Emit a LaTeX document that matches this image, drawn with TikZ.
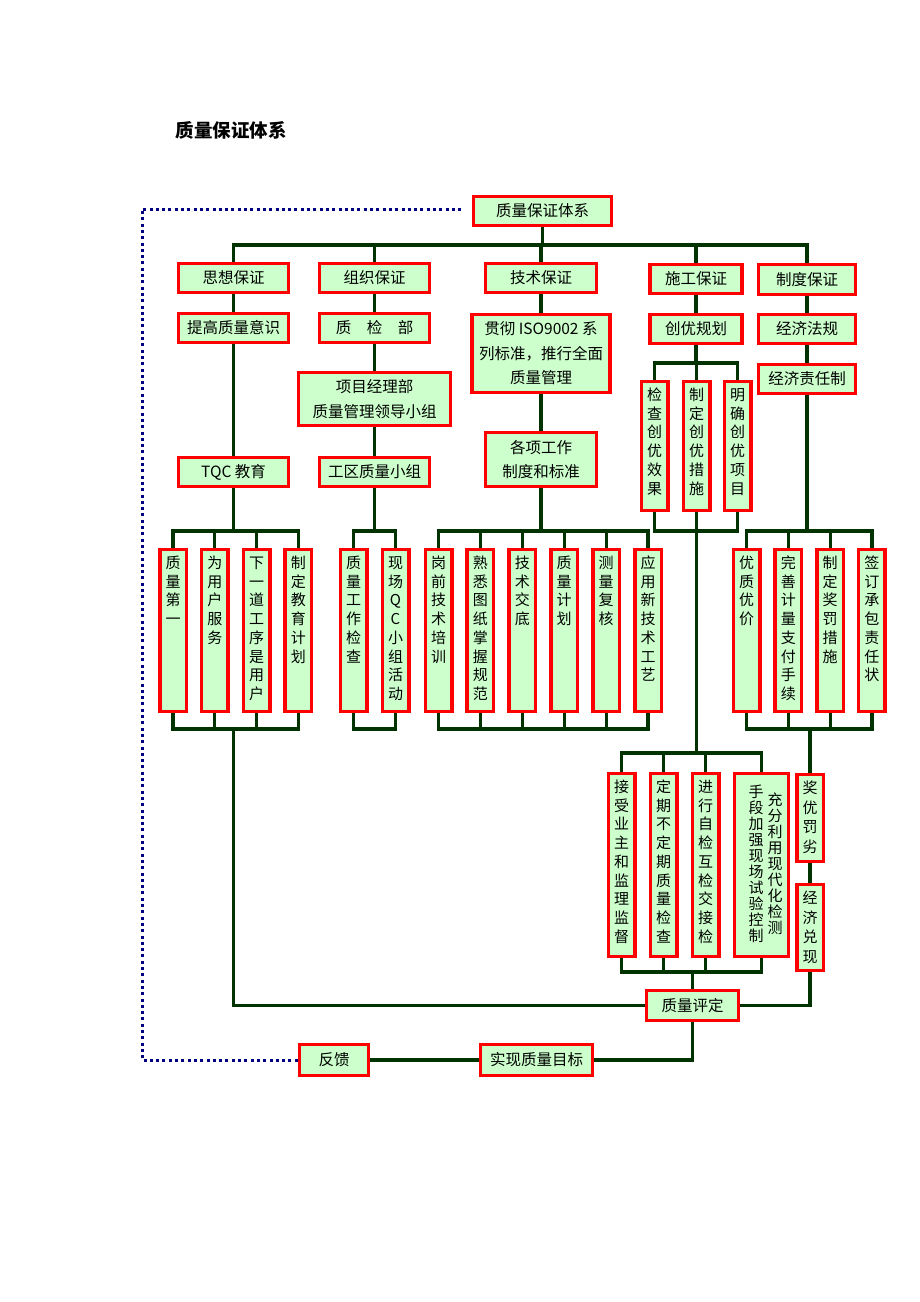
\documentclass[tikz,border=0pt]{standalone}
\usepackage{fontspec}
\setmainfont{Noto Sans CJK SC}
\usepackage{tikz}
\usetikzlibrary{positioning,backgrounds}

\definecolor{boxfill}{HTML}{CCFFCC}
\definecolor{boxline}{HTML}{FF0000}
\definecolor{linkline}{HTML}{003300}
\definecolor{dotline}{HTML}{000080}

\newcommand{\vcol}[1]{\parbox[t]{16pt}{\centering #1}}

\begin{document}
\begin{tikzpicture}[x=1pt,y=-1pt,node distance=50pt,on grid,
    hbox/.style={draw=boxline,fill=boxfill,line width=3.5pt,inner sep=0pt,
      minimum width=110pt,minimum height=29pt,align=center,
      font=\fontsize{15.5}{24.5}\selectfont},
    vbox/.style={draw=boxline,fill=boxfill,line width=3.5pt,inner xsep=0pt,
      inner ysep=5pt,minimum width=26.5pt,text height=14pt,text depth=#1,
      font=\fontsize{15}{18.7}\selectfont},
    conn/.style={draw=linkline,line width=3.2pt},
    fbline/.style={draw=dotline,line width=3pt,dash pattern=on 3pt off 3.3pt}]
  \useasboundingbox (0,0) rectangle (920,1302);

  \node[font=\fontsize{18.5}{22}\selectfont\bfseries] (title) at (231,130) {质量保证体系};

  \node[hbox,minimum width=138pt] (top) at (542.5,211) {质量保证体系};
  \node[hbox] (g_1) at (233.5,278) {思想保证};
  \node[hbox] (g_2) at (374.5,278) {组织保证};
  \node[hbox,minimum width=111pt] (g_3) at (541,278) {技术保证};
  \node[hbox,minimum width=92pt] (g_4) at (696,279) {施工保证};
  \node[hbox,minimum width=97pt,minimum height=30pt] (g_5) at (807,279.5) {制度保证};

  \node[hbox] (g_1a) [below=of g_1] {提高质量意识};
  \node[hbox] (g_1b) [below=144pt of g_1a] {TQC 教育};
  \node[hbox] (g_2a) [below=of g_2] {质\hspace{1em}检\hspace{1em}部};
  \node[hbox,minimum width=152pt,minimum height=53pt] (g_2b) [below=71pt of g_2a] {项目经理部\\质量管理领导小组};
  \node[hbox] (g_2c) [below=73pt of g_2b] {工区质量小组};
  \node[hbox,minimum width=138pt,minimum height=78pt] (g_3a) [below=75.5pt of g_3] {贯彻 ISO9002 系\\列标准，推行全面\\质量管理};
  \node[hbox,minimum width=111pt,minimum height=54pt] (g_3b) [below=106pt of g_3a] {各项工作\\制度和标准};
  \node[hbox,minimum width=92pt] (g_4a) [below=of g_4] {创优规划};
  \node[hbox,minimum width=97pt] (g_5a) [below=49.5pt of g_5] {经济法规};
  \node[hbox,minimum width=97pt] (g_5b) [below=of g_5a] {经济责任制};

  \node[vbox=105pt] (c_1) at (654.5,446) {\vcol{检\\查\\创\\优\\效\\果}};
  \node[vbox=105pt] (c_2) [right=42pt of c_1] {\vcol{制\\定\\创\\优\\措\\施}};
  \node[vbox=105pt] (c_3) [right=41pt of c_2] {\vcol{明\\确\\创\\优\\项\\目}};

  \node[vbox=138pt] (v_1) at (173,630.5) {\vcol{质\\量\\第\\一}};
  \node[vbox=138pt] (v_2) [right=41.8pt of v_1] {\vcol{为\\用\\户\\服\\务}};
  \node[vbox=138pt] (v_3) [right=41.8pt of v_2] {\vcol{下\\一\\道\\工\\序\\是\\用\\户}};
  \node[vbox=138pt] (v_4) [right=41.8pt of v_3] {\vcol{制\\定\\教\\育\\计\\划}};

  \node[vbox=138pt] (w_1) at (353.5,630.5) {\vcol{质\\量\\工\\作\\检\\查}};
  \node[vbox=138pt] (w_2) [right=42pt of w_1] {\vcol{现\\场\\Q\\C\\小\\组\\活\\动}};

  \node[vbox=138pt] (t_1) at (438.5,630.5) {\vcol{岗\\前\\技\\术\\培\\训}};
  \node[vbox=138pt] (t_2) [right=41.9pt of t_1] {\vcol{熟\\悉\\图\\纸\\掌\\握\\规\\范}};
  \node[vbox=138pt] (t_3) [right=41.9pt of t_2] {\vcol{技\\术\\交\\底}};
  \node[vbox=138pt] (t_4) [right=41.9pt of t_3] {\vcol{质\\量\\计\\划}};
  \node[vbox=138pt] (t_5) [right=41.9pt of t_4] {\vcol{测\\量\\复\\核}};
  \node[vbox=138pt] (t_6) [right=41.9pt of t_5] {\vcol{应\\用\\新\\技\\术\\工\\艺}};

  \node[vbox=138pt] (z_1) at (746.5,630.5) {\vcol{优\\质\\优\\价}};
  \node[vbox=138pt] (z_2) [right=41.8pt of z_1] {\vcol{完\\善\\计\\量\\支\\付\\手\\续}};
  \node[vbox=138pt] (z_3) [right=41.8pt of z_2] {\vcol{制\\定\\奖\\罚\\措\\施}};
  \node[vbox=138pt] (z_4) [right=41.8pt of z_3] {\vcol{签\\订\\承\\包\\责\\任\\状}};

  \node[vbox=159pt] (j_1) at (621.5,865) {\vcol{接\\受\\业\\主\\和\\监\\理\\监\\督}};
  \node[vbox=159pt] (j_2) [right=42pt of j_1] {\vcol{定\\期\\不\\定\\期\\质\\量\\检\\查}};
  \node[vbox=159pt] (j_3) [right=42pt of j_2] {\vcol{进\\行\\自\\检\\互\\检\\交\\接\\检}};
  \node[vbox=159pt,minimum width=54pt,font=\fontsize{15}{16}\selectfont] (j_4) [right=56pt of j_3]
    {\hspace{8pt}\raisebox{-5pt}{\vcol{手\\段\\加\\强\\现\\场\\试\\验\\控\\制}}\hspace{3pt}\raisebox{-13pt}{\vcol{充\\分\\利\\用\\现\\代\\化\\检\\测}}};

  \node[vbox=63pt,font=\fontsize{15}{19.5}\selectfont] (k_1) at (810,818) {\vcol{奖\\优\\罚\\劣}};
  \node[vbox=62pt,font=\fontsize{15}{19.5}\selectfont] (k_2) [below=109.5pt of k_1] {\vcol{经\\济\\兑\\现}};

  \node[hbox,minimum width=92pt,minimum height=30pt] (eval) at (692.5,1005.5) {质量评定};
  \node[hbox,minimum width=112pt,minimum height=31pt] (goal) at (536.5,1060) {实现质量目标};
  \node[hbox,minimum width=69pt,minimum height=31pt] (fb) [left=202.5pt of goal] {反馈};

  \coordinate (b_0) at (0,245);
  \coordinate (b_1) at (0,531);
  \coordinate (b_2) at (0,729);
  \coordinate (b_3) at (0,363);
  \coordinate (b_5) at (0,753);
  \coordinate (b_6) at (0,972);
  \coordinate (d_1) at (142,209);
  \coordinate (d_2) at (464,209);

  \begin{scope}[on background layer]
  \draw[conn] (top) -- (top |- b_0);
  \draw[conn] (g_1) |- (g_5 |- b_0) -- (g_5);
  \draw[conn] (g_2) -- (g_2 |- b_0) (g_3) -- (g_3 |- b_0) (g_4) -- (g_4 |- b_0);

  \draw[conn] (g_1) -- (g_1a) (g_1a) -- (g_1b);
  \draw[conn] (g_2) -- (g_2a) (g_2a) -- (g_2b) (g_2b) -- (g_2c);
  \draw[conn] (g_3) -- (g_3a) (g_3a) -- (g_3b);
  \draw[conn] (g_4) -- (g_4a);
  \draw[conn] (g_5) -- (g_5a) (g_5a) -- (g_5b);

  \draw[conn] (g_4a) -- (g_4a |- b_3);
  \draw[conn] (c_1) |- (c_3 |- b_3) -- (c_3);
  \draw[conn] (c_2) -- (c_2 |- b_3);
  \draw[conn] (c_1) |- (c_3 |- b_1) -- (c_3);
  \draw[conn] (c_2) -- (c_2 |- b_5);

  \draw[conn] (g_1b) -- (g_1b |- b_1);
  \draw[conn] (v_1) |- (v_4 |- b_1) -- (v_4);
  \draw[conn] (v_2) -- (v_2 |- b_1) (v_3) -- (v_3 |- b_1);
  \draw[conn] (v_1) |- (v_4 |- b_2) -- (v_4);
  \draw[conn] (v_2) -- (v_2 |- b_2) (v_3) -- (v_3 |- b_2);
  \draw[conn] (g_1b |- b_2) |- (eval);

  \draw[conn] (g_2c) -- (g_2c |- b_1);
  \draw[conn] (w_1) |- (w_2 |- b_1) -- (w_2);
  \draw[conn] (w_1) |- (w_2 |- b_2) -- (w_2);

  \draw[conn] (g_3b) -- (g_3b |- b_1);
  \draw[conn] (t_1) |- (t_6 |- b_1) -- (t_6);
  \draw[conn] (t_2) -- (t_2 |- b_1) (t_3) -- (t_3 |- b_1) (t_4) -- (t_4 |- b_1) (t_5) -- (t_5 |- b_1);
  \draw[conn] (t_1) |- (t_6 |- b_2) -- (t_6);
  \draw[conn] (t_2) -- (t_2 |- b_2) (t_3) -- (t_3 |- b_2) (t_4) -- (t_4 |- b_2) (t_5) -- (t_5 |- b_2);

  \draw[conn] (g_5b) -- (g_5b |- b_1);
  \draw[conn] (z_1) |- (z_4 |- b_1) -- (z_4);
  \draw[conn] (z_2) -- (z_2 |- b_1) (z_3) -- (z_3 |- b_1);
  \draw[conn] (z_1) |- (z_4 |- b_2) -- (z_4);
  \draw[conn] (z_2) -- (z_2 |- b_2) (z_3) -- (z_3 |- b_2);
  \draw[conn] (k_1) -- (k_1 |- b_2);
  \draw[conn] (k_1) -- (k_2);
  \draw[conn] (k_2) |- (eval);

  \draw[conn] (j_1) |- (j_4 |- b_5) -- (j_4);
  \draw[conn] (j_2) -- (j_2 |- b_5) (j_3) -- (j_3 |- b_5);
  \draw[conn] (j_1) |- (j_4 |- b_6) -- (j_4);
  \draw[conn] (j_2) -- (j_2 |- b_6) (j_3) -- (j_3 |- b_6);
  \draw[conn] (eval) -- (eval |- b_6);
  \draw[conn] (eval) |- (goal);
  \draw[conn] (goal) -- (fb);
  \draw[fbline] (fb) -| (d_1) -- (d_2);
  \end{scope}
\end{tikzpicture}
\end{document}
